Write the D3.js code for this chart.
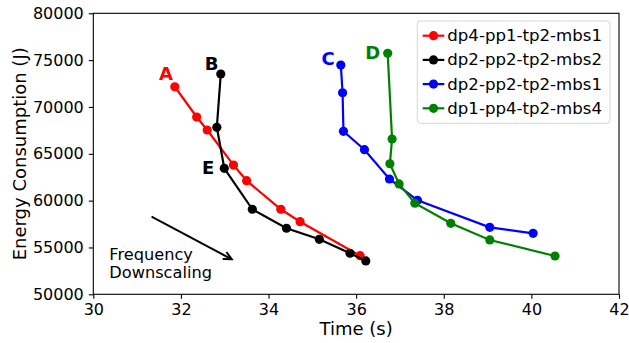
<!DOCTYPE html>
<html>
<head>
<meta charset="utf-8">
<script src="https://cdn.jsdelivr.net/npm/d3@7"></script>
<style>
  body { margin: 0; background: #fff; }
  svg { display: block; font-family: "DejaVu Sans", sans-serif; }
</style>
</head>
<body>
<div id="chart"></div>
<script>
// series names (legend order)
var seriesNames = ["dp4-pp1-tp2-mbs1", "dp2-pp2-tp2-mbs2", "dp2-pp2-tp2-mbs1", "dp1-pp4-tp2-mbs4"];
var seriesColors = ["#ff0000", "#000000", "#0000ff", "#008000"];

// time (s) / energy (J) per series
var timeA = [31.86, 32.36, 32.60, 33.20, 33.50, 34.28, 34.72, 36.09];
var energyA = [72160, 68930, 67540, 63800, 62130, 59080, 57750, 54120];

var timeB = [32.91, 32.82, 32.99, 33.63, 34.41, 35.16, 35.86, 36.22];
var energyB = [73520, 67830, 63450, 59080, 57050, 55870, 54380, 53560];

var timeC = [35.65, 35.69, 35.71, 36.19, 36.76, 37.40, 39.05, 40.04];
var energyC = [74480, 71520, 67400, 65440, 62310, 60040, 57150, 56510];

var timeD = [36.72, 36.82, 36.77, 36.98, 37.34, 38.16, 39.05, 40.54];
var energyD = [75730, 66580, 63940, 61780, 59720, 57580, 55800, 54090];

var xTicks = [30, 32, 34, 36, 38, 40, 42];
var yTicks = [50000, 55000, 60000, 65000, 70000, 75000, 80000];

// point labels
var labelText = ["A", "B", "C", "D", "E"];
var labelColor = ["#ff0000", "#000000", "#0000ff", "#008000", "#000000"];
var labelTime = [31.66, 32.70, 35.36, 36.38, 32.62];
var labelEnergy = [73570, 74660, 75200, 75800, 63560];

var arrowTime = [31.33, 33.16];
var arrowEnergy = [58290, 53740];

var W = 629, H = 343;
var margin = { top: 13.3, right: 10, bottom: 48.7, left: 93.3 };
var width = W - margin.left - margin.right;
var height = H - margin.top - margin.bottom;

var svg = d3.select('#chart').append('svg')
    .attr('width', W)
    .attr('height', H);

var g = svg.append('g')
    .attr('transform', 'translate(' + margin.left + ',' + margin.top + ')');

var x = d3.scaleLinear().domain([30, 42]).range([0, width]);
var y = d3.scaleLinear().domain([50000, 80000]).range([height, 0]);

// Axes
var xAxis = g.append('g')
    .attr('transform', 'translate(0,' + height + ')')
    .call(d3.axisBottom(x).tickValues(xTicks).tickSize(4.5).tickPadding(5).tickFormat(d3.format('d')));
var yAxis = g.append('g')
    .call(d3.axisLeft(y).tickValues(yTicks).tickSize(4.5).tickPadding(5).tickFormat(d3.format('d')));

[xAxis, yAxis].forEach(function (a) {
    a.select('.domain').remove();
    a.selectAll('text').style('font-size', '16px').style('font-family', '"DejaVu Sans"').attr('fill', '#000');
    a.selectAll('line').attr('stroke', '#000').attr('stroke-width', 1.1);
});

// frame
g.append('rect')
    .attr('width', width)
    .attr('height', height)
    .attr('fill', 'none')
    .attr('stroke', '#000')
    .attr('stroke-width', 1.1);

// axis labels
g.append('text')
    .attr('x', width / 2)
    .attr('y', height + 41)
    .attr('text-anchor', 'middle')
    .style('font-size', '18px')
    .text('Time (s)');

g.append('text')
    .attr('transform', 'translate(' + (-67) + ',' + (height / 2) + ')rotate(-90)')
    .attr('text-anchor', 'middle')
    .style('font-size', '18px')
    .text('Energy Consumption (J)');

// series
var series = [
    { t: timeA, e: energyA },
    { t: timeB, e: energyB },
    { t: timeC, e: energyC },
    { t: timeD, e: energyD }
];

var line = d3.line()
    .x(function (d) { return x(d[0]); })
    .y(function (d) { return y(d[1]); });

series.forEach(function (s, i) {
    var pts = s.t.map(function (t, j) { return [t, s.e[j]]; });
    var sg = g.append('g');
    sg.append('path')
        .datum(pts)
        .attr('d', line)
        .attr('fill', 'none')
        .attr('stroke', seriesColors[i])
        .attr('stroke-width', 2.2);
    sg.selectAll('circle')
        .data(pts)
        .enter()
        .append('circle')
        .attr('cx', function (d) { return x(d[0]); })
        .attr('cy', function (d) { return y(d[1]); })
        .attr('r', 4.6)
        .attr('fill', seriesColors[i]);
});

// point labels
labelText.forEach(function (t, i) {
    g.append('text')
        .attr('x', x(labelTime[i]))
        .attr('y', y(labelEnergy[i]))
        .attr('text-anchor', 'middle')
        .attr('dominant-baseline', 'central')
        .style('font-size', '18px')
        .style('font-weight', 'bold')
        .attr('fill', labelColor[i])
        .text(t);
});

// frequency downscaling arrow
var ax0 = x(arrowTime[0]), ay0 = y(arrowEnergy[0]);
var ax1 = x(arrowTime[1]), ay1 = y(arrowEnergy[1]);
var ang = Math.atan2(ay1 - ay0, ax1 - ax0);
var hl = 9, ha = 0.45;
g.append('path')
    .attr('d', 'M' + ax0 + ',' + ay0 + 'L' + ax1 + ',' + ay1)
    .attr('stroke', '#000')
    .attr('stroke-width', 2);
g.append('path')
    .attr('d', 'M' + (ax1 - hl * Math.cos(ang - ha)) + ',' + (ay1 - hl * Math.sin(ang - ha)) +
        'L' + ax1 + ',' + ay1 +
        'L' + (ax1 - hl * Math.cos(ang + ha)) + ',' + (ay1 - hl * Math.sin(ang + ha)))
    .attr('fill', 'none')
    .attr('stroke', '#000')
    .attr('stroke-width', 2);

var ft = g.append('text')
    .attr('x', 109.3 - margin.left)
    .attr('y', 260 - margin.top)
    .style('font-size', '16.2px');
ft.append('tspan').attr('x', 109.3 - margin.left).text('Frequency');
ft.append('tspan').attr('x', 109.3 - margin.left).attr('dy', 18.3).text('Downscaling');

// Legend
var lg = svg.append('g').attr('transform', 'translate(417.3,21)');
lg.append('rect')
    .attr('width', 192.7)
    .attr('height', 102.3)
    .attr('rx', 3)
    .attr('fill', '#fff')
    .attr('fill-opacity', 0.8)
    .attr('stroke', '#d6d6d6')
    .attr('stroke-width', 1);

seriesNames.forEach(function (name, i) {
    var ry = 14.7 + i * 24.2;
    var row = lg.append('g').attr('transform', 'translate(0,' + ry + ')');
    row.append('line')
        .attr('x1', 5.4).attr('x2', 27)
        .attr('y1', 0).attr('y2', 0)
        .attr('stroke', seriesColors[i])
        .attr('stroke-width', 2.2);
    row.append('circle')
        .attr('cx', 16.2).attr('cy', 0)
        .attr('r', 4.6)
        .attr('fill', seriesColors[i]);
    row.append('text')
        .attr('x', 30)
        .attr('y', 0)
        .attr('dominant-baseline', 'central')
        .style('font-size', '16.6px')
        .text(name);
});
</script>
</body>
</html>
